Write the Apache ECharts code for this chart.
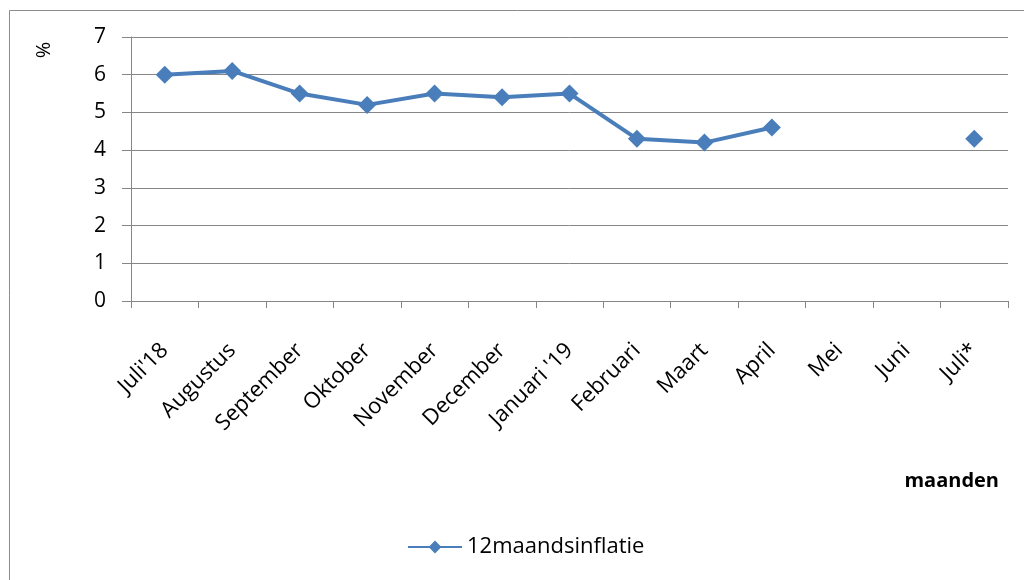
<!DOCTYPE html>
<html><head><meta charset="utf-8">
<script src="https://cdn.jsdelivr.net/npm/echarts@6/dist/echarts.min.js"></script>
<style>html,body{margin:0;padding:0;background:#fff}#c{width:1024px;height:580px}</style>
</head><body><div id="c"></div>
<script>
const categories = ["Juli'18","Augustus","September","Oktober","November","December","Januari '19","Februari","Maart","April","Mei","Juni","Juli*"];
const inflation = [6.0, 6.1, 5.5, 5.2, 5.5, 5.4, 5.5, 4.3, 4.2, 4.6, null, null, 4.3];
const seriesName = '12maandsinflatie';
const yTicks = {min: 0, max: 7, interval: 1};

const chart = echarts.init(document.getElementById('c'));
const font = "'Open Sans', 'Liberation Sans', sans-serif";
chart.setOption({
  animation: false,
  graphic: [
    {type: 'rect', left: 7, top: 8, shape: {width: 1030, height: 590}, style: {fill: 'none', stroke: '#8c8c8c', lineWidth: 1}, silent: true},
    {type: 'text', x: 42, y: 50, rotation: -Math.PI/2, style: {text: '%', font: '20px ' + font, fill: '#000', align: 'center', verticalAlign: 'middle'}}
  ],
  title: {text: 'maanden', right: 20, top: 466, textStyle: {fontFamily: font, fontSize: 20, fontWeight: 'bold', color: '#000'}},
  legend: {
    data: [seriesName], left: 402, top: 531, itemWidth: 54, itemHeight: 16, itemGap: 6,
    textStyle: {fontFamily: font, fontSize: 22, color: '#000'}
  },
  grid: {left: 131, right: 16, top: 37, bottom: 279, containLabel: false},
  xAxis: {
    type: 'category', data: categories, boundaryGap: true,
    axisLine: {lineStyle: {color: '#868686', width: 1}},
    axisTick: {show: true, length: 7, lineStyle: {color: '#868686'}},
    axisLabel: {rotate: 45, interval: 0, margin: 46, fontFamily: font, fontSize: 22, color: '#000'}
  },
  yAxis: {
    type: 'value', min: yTicks.min, max: yTicks.max, interval: yTicks.interval,
    axisLine: {show: true, lineStyle: {color: '#868686'}},
    axisTick: {show: true, length: 9, lineStyle: {color: '#868686'}},
    splitLine: {lineStyle: {color: '#868686', width: 1}},
    axisLabel: {margin: 25, fontFamily: font, fontSize: 21, color: '#000'}
  },
  series: [{
    name: seriesName, type: 'line', data: inflation, connectNulls: false,
    symbol: 'diamond', symbolSize: 18,
    lineStyle: {color: '#4A7EBB', width: 4},
    itemStyle: {color: '#4A7EBB'}
  }]
});
</script></body></html>
